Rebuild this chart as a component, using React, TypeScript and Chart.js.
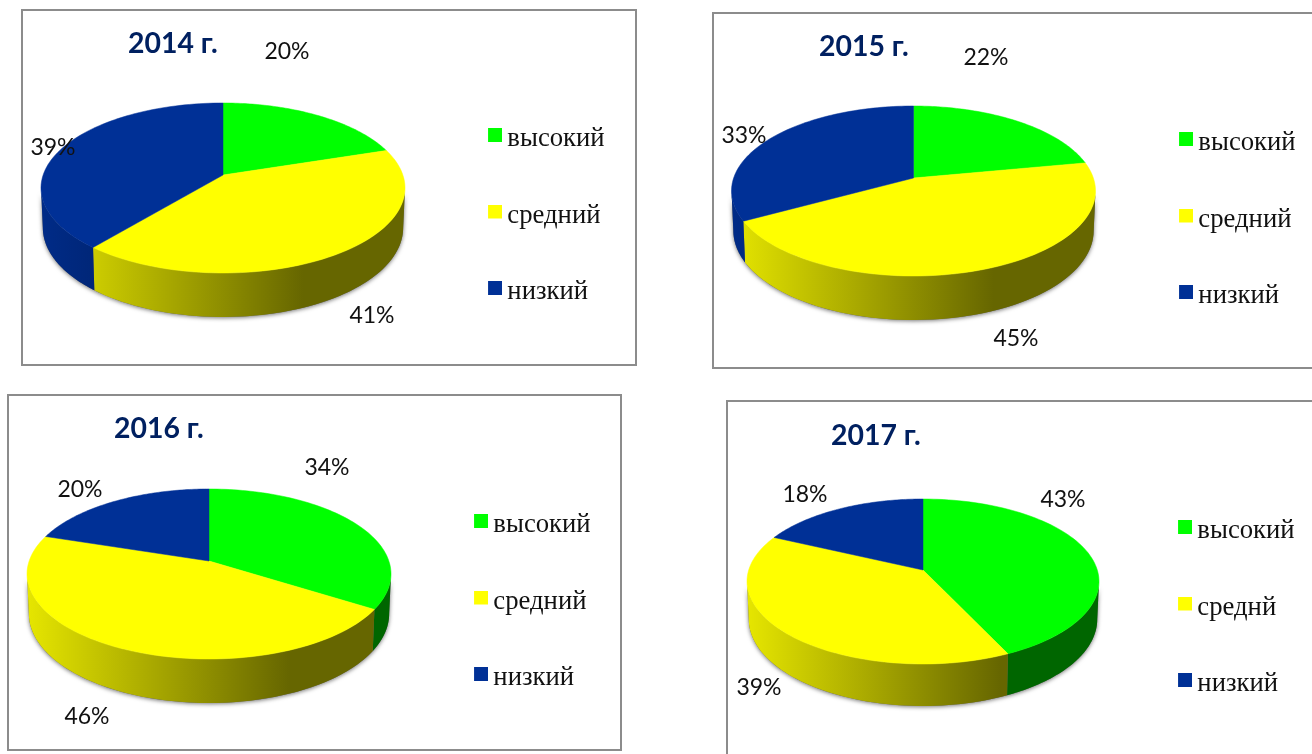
import React, { useEffect, useRef } from "react";
import { Chart, PieController, ArcElement, Legend, Title } from "chart.js";

const GREEN = "#00ff00";
const YELLOW = "#ffff00";
const BLUE = "#003096";
const sliceColors = [GREEN, YELLOW, BLUE];

const titles = ["2014 г.", "2015 г.", "2016 г.", "2017 г."];
const labels2014 = ["высокий", "средний", "низкий"];
const labels2015 = ["высокий", "средний", "низкий"];
const labels2016 = ["высокий", "средний", "низкий"];
const labels2017 = ["высокий", "среднй", "низкий"];
const values2014 = [20, 41, 39];
const values2015 = [22, 45, 33];
const values2016 = [34, 46, 20];
const values2017 = [43, 39, 18];

const allLabels = [labels2014, labels2015, labels2016, labels2017];
const allValues = [values2014, values2015, values2016, values2017];

// page-coordinate layout of each panel
const panels = [
  { left: 21, top: 9, width: 616, height: 357, cx: 223, cy: 175, rx: 182, t: 72, b: 98, depth: 44, titleX: 128, titleY: 44, legendX: 494, legendY: 135,
    pct: [[287, 51.5], [372, 315.5], [53, 147.5]] },
  { left: 712, top: 12, width: 700, height: 357, cx: 913.5, cy: 178, rx: 182, t: 72, b: 98, depth: 44, titleX: 819, titleY: 47, legendX: 1185, legendY: 139,
    pct: [[986, 57.5], [1016, 338.5], [744, 135.5]] },
  { left: 7, top: 394, width: 615, height: 357, cx: 209, cy: 561, rx: 182, t: 72, b: 98, depth: 44, titleX: 114, titleY: 429, legendX: 480, legendY: 521,
    pct: [[327, 467.5], [87, 716.5], [80, 489.5]] },
  { left: 726, top: 400, width: 700, height: 420, cx: 923, cy: 570, rx: 176, t: 71, b: 94, depth: 42, titleX: 831, titleY: 436, legendX: 1184, legendY: 527,
    pct: [[1063, 499.5], [759, 687.5], [805, 494.5]] },
];

const LEGEND_FONT = 26.7;
const LEGEND_PAD = 49.8;
const SWATCH_SHIFT = 4;

function shade(hex: string, f: number) {
  const n = parseInt(hex.slice(1), 16);
  const c = [(n >> 16) & 255, (n >> 8) & 255, n & 255].map((v) => Math.round(v * f));
  return `rgb(${c[0]},${c[1]},${c[2]})`;
}

function swatch(color: string) {
  const c = document.createElement("canvas");
  c.width = 16;
  c.height = 14 + SWATCH_SHIFT * 2;
  const x = c.getContext("2d") as CanvasRenderingContext2D;
  x.fillStyle = color;
  x.fillRect(2, 0, 14, 14);
  return c;
}

function makeRim(g: any) {
  const k = (g.b - g.t) / (g.b + g.t);
  const B = g.t * (1 + k);
  const A = g.rx * Math.sqrt(1 - k * k);
  const at = (a: number) => {
    const s = Math.sin(a);
    const d = 1 - k * s;
    return { x: g.x + (A * Math.cos(a)) / d, y: g.y + (B * s) / d };
  };
  const low = (a: number) => {
    const p = at(a);
    return { x: g.x + (p.x - g.x) * 0.99, y: p.y + g.depth * (0.88 + 0.12 * Math.sin(a)) };
  };
  return { k, at, low };
}

class Arc3D extends ArcElement {
  static id = "arc3d";
  geom: any;
  draw(ctx: CanvasRenderingContext2D) {
    const g = this.geom;
    if (!g) return;
    const { startAngle, endAngle, options } = this as any;
    const rim = makeRim(g);
    ctx.save();
    ctx.beginPath();
    ctx.moveTo(g.x, g.y);
    const n = 80;
    for (let i = 0; i <= n; i++) {
      const p = rim.at(startAngle + ((endAngle - startAngle) * i) / n);
      ctx.lineTo(p.x, p.y);
    }
    ctx.closePath();
    ctx.fillStyle = options.backgroundColor;
    ctx.strokeStyle = options.backgroundColor;
    ctx.lineWidth = 0.5;
    ctx.fill();
    ctx.stroke();
    ctx.restore();
  }
}

class Pie3DController extends PieController {
  static id = "pie3d";
  static defaults = { dataElementType: "arc3d" };
  draw() {
    const chart: any = this.chart;
    const ctx = chart.ctx;
    const g = chart.options.plugins.panelText.geom;
    const rim = makeRim(g);
    const lo = Math.asin(rim.k);
    const hi = Math.PI - lo;
    const wall = (a0: number, a1: number) => {
      const n = 60;
      ctx.beginPath();
      for (let i = 0; i <= n; i++) {
        const p = rim.at(a0 + ((a1 - a0) * i) / n);
        i ? ctx.lineTo(p.x, p.y) : ctx.moveTo(p.x, p.y);
      }
      for (let i = n; i >= 0; i--) {
        const p = rim.low(a0 + ((a1 - a0) * i) / n);
        ctx.lineTo(p.x, p.y);
      }
      ctx.closePath();
    };
    // soft shadow under the whole wall
    ctx.save();
    ctx.shadowColor = "rgba(0,0,0,0.55)";
    ctx.shadowBlur = 4;
    ctx.shadowOffsetY = 1;
    ctx.fillStyle = "#666";
    wall(lo, hi);
    ctx.fill();
    ctx.restore();
    const elements: any[] = this.getMeta().data as any;
    for (const el of elements) {
      el.geom = g;
      const a0 = Math.max(el.startAngle, lo);
      const a1 = Math.min(el.endAngle, hi);
      if (a1 <= a0) continue;
      const base = el.options.backgroundColor;
      const grad = ctx.createLinearGradient(g.x - g.rx, 0, g.x + g.rx, 0);
      grad.addColorStop(0, shade(base, 0.9));
      grad.addColorStop(0.72, shade(base, 0.4));
      grad.addColorStop(1, shade(base, 0.4));
      ctx.save();
      ctx.fillStyle = grad;
      wall(a0, a1);
      ctx.fill();
      ctx.restore();
    }
    for (const el of elements) el.draw(ctx);
  }
}

const panelText = {
  id: "panelText",
  afterLayout(chart: any, _a: any, opts: any) {
    const legend = chart.legend;
    legend.left = opts.legendX - LEGEND_PAD;
    legend.top = opts.legendY + SWATCH_SHIFT - LEGEND_FONT / 2 - LEGEND_PAD;
  },
  afterDatasetsDraw(chart: any, _a: any, opts: any) {
    const ctx = chart.ctx;
    ctx.save();
    ctx.font = '23px Lato, "Open Sans", sans-serif';
    ctx.fillStyle = "#111";
    ctx.textAlign = "center";
    ctx.textBaseline = "middle";
    const vals = chart.data.datasets[0].data;
    opts.pct.forEach((p: number[], i: number) => ctx.fillText(`${vals[i]}%`, p[0], p[1]));
    ctx.restore();
  },
};

Chart.register(Pie3DController, Arc3D, PieController, ArcElement, Legend, Title, panelText);

function Panel({ index }: { index: number }) {
  const ref = useRef<HTMLCanvasElement>(null);
  const p = panels[index];
  useEffect(() => {
    const lineH = 32;
    const titleCenter = p.titleY - p.top;
    const baseLabels = (PieController as any).overrides.plugins.legend.labels.generateLabels;
    const chart = new Chart(ref.current as HTMLCanvasElement, {
      type: "pie3d" as any,
      data: {
        labels: allLabels[index],
        datasets: [{ data: allValues[index], backgroundColor: sliceColors, borderWidth: 0, clip: false } as any],
      },
      options: {
        animation: false,
        responsive: false,
        events: [],
        layout: { padding: { left: p.titleX - p.left, top: 0, right: 0, bottom: 0 } },
        plugins: {
          title: {
            display: true,
            text: titles[index],
            align: "start",
            color: "#002060",
            font: { family: 'Lato, "Open Sans", sans-serif', size: 28.4, weight: "bold", lineHeight: lineH / 28.4 },
            padding: { top: titleCenter - lineH / 2, bottom: 4 },
          },
          legend: {
            display: true,
            position: "right",
            align: "start",
            labels: {
              usePointStyle: true,
              boxWidth: 0.01,
              boxHeight: 14,
              padding: LEGEND_PAD,
              color: "#111",
              font: { family: '"Liberation Serif", serif', size: LEGEND_FONT },
              generateLabels: (c: any) =>
                baseLabels(c).map((it: any) => ({ ...it, pointStyle: swatch(it.fillStyle) })),
            },
          },
          tooltip: { enabled: false },
          panelText: {
            geom: { x: p.cx - p.left, y: p.cy - p.top, rx: p.rx, t: p.t, b: p.b, depth: p.depth },
            legendX: p.legendX - p.left,
            legendY: p.legendY - p.top,
            pct: p.pct.map((c) => [c[0] - p.left, c[1] - p.top]),
          },
        },
      } as any,
    });
    return () => chart.destroy();
  }, []);
  return (
    <>
      <div
        style={{
          position: "absolute",
          left: p.left,
          top: p.top,
          width: p.width,
          height: p.height,
          boxSizing: "border-box",
          border: "2px solid #8c8c8c",
          background: "#fff",
        }}
      />
      <canvas
        ref={ref}
        width={720}
        height={500}
        style={{ position: "absolute", left: p.left, top: p.top, width: 720, height: 500, display: "block" }}
      />
    </>
  );
}

export default function App() {
  return (
    <div style={{ position: "absolute", left: 0, top: 0, width: 1312, height: 754, overflow: "hidden", background: "#fff" }}>
      {panels.map((_, i) => (
        <Panel key={i} index={i} />
      ))}
    </div>
  );
}
